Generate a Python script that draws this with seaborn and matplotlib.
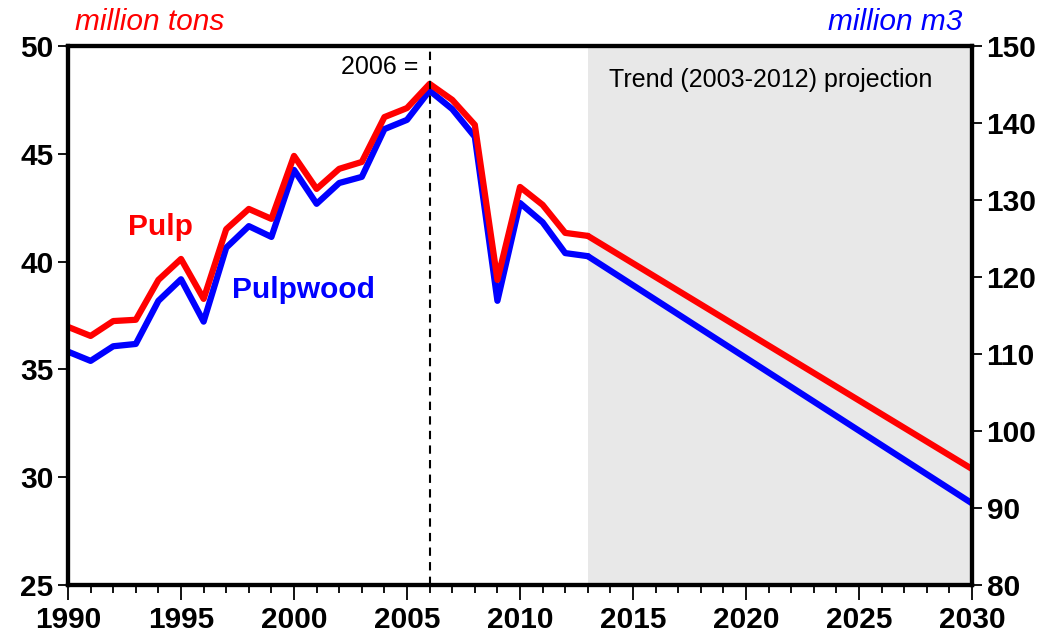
import matplotlib
matplotlib.use("Agg")
import matplotlib.pyplot as plt
import pandas as pd
import seaborn as sns
from matplotlib.ticker import MultipleLocator

# Historical data, 1990-2013
years = list(range(1990, 2014))
pulp = [36.97, 36.55, 37.24, 37.30, 39.15, 40.12, 38.27, 41.50, 42.44, 41.98,
        44.90, 43.37, 44.30, 44.62, 46.70, 47.12, 48.24, 47.50, 46.34, 39.15,
        43.46, 42.63, 41.33, 41.19]
pulpwood = [110.3, 109.1, 111.0, 111.3, 116.9, 119.7, 114.2, 123.8, 126.6, 125.2,
            133.9, 129.5, 132.2, 133.0, 139.2, 140.4, 144.2, 141.8, 138.2, 116.9,
            129.6, 127.1, 123.1, 122.7]

# Trend (2003-2012) projection endpoints
proj_years = [2013, 2030]
proj_pulp = [41.19, 30.38]
proj_pulpwood = [122.7, 90.6]

RED = "#ff0000"
BLUE = "#0000ff"

sns.set_theme(style="white")
plt.rcParams["font.family"] = ["Liberation Sans", "DejaVu Sans"]
plt.rcParams["text.color"] = "black"
plt.rcParams["xtick.color"] = "black"
plt.rcParams["ytick.color"] = "black"

hist = pd.DataFrame({"year": years, "pulp": pulp, "pulpwood": pulpwood})
proj = pd.DataFrame({"year": proj_years, "pulp": proj_pulp, "pulpwood": proj_pulpwood})

fig = plt.figure(figsize=(10.48, 6.38), dpi=100)
ax = fig.add_axes([0.0649, 0.0831, 0.8626, 0.8449])
ax2 = ax.twinx()
ax.set_zorder(ax2.get_zorder() + 1)
ax.patch.set_visible(False)

# shaded projection region and pulpwood on the right axis
ax2.axvspan(2013, 2030, color="#e8e8e8", lw=0, zorder=0)
sns.lineplot(data=hist, x="year", y="pulpwood", ax=ax2, color=BLUE, lw=4.5)
sns.lineplot(data=proj, x="year", y="pulpwood", ax=ax2, color=BLUE, lw=4.5)

# pulp on the left axis
sns.lineplot(data=hist, x="year", y="pulp", ax=ax, color=RED, lw=4.5)
sns.lineplot(data=proj, x="year", y="pulp", ax=ax, color=RED, lw=4.5)
ax.axvline(2006, color="black", ls=(0, (4, 3)), lw=1.5, zorder=5)

ax.set_xlim(1990, 2030)
ax.set_ylim(25, 50)
ax2.set_ylim(80, 150)
ax.set_xlabel("")
ax.set_ylabel("")
ax2.set_ylabel("")

ax.xaxis.set_major_locator(MultipleLocator(5))
ax.xaxis.set_minor_locator(MultipleLocator(1))
ax.yaxis.set_major_locator(MultipleLocator(5))
ax2.yaxis.set_major_locator(MultipleLocator(10))

ax.tick_params(axis="x", which="major", bottom=True, direction="out", length=11,
               width=1.3, color="black", labelcolor="black", labelsize=21.5, pad=4)
ax.tick_params(axis="x", which="minor", bottom=True, direction="out", length=6,
               width=1.3, color="black")
ax.tick_params(axis="y", left=True, direction="out", length=7, width=1.3,
               color="black", labelcolor="black", labelsize=21.5)
ax2.tick_params(axis="y", right=True, direction="out", length=7, width=1.3,
                color="black", labelcolor="black", labelsize=21.5)
for lab in ax.get_xticklabels() + ax.get_yticklabels() + ax2.get_yticklabels():
    lab.set_fontweight("bold")

for a in (ax, ax2):
    for sp in a.spines.values():
        sp.set_color("black")
        sp.set_linewidth(3)

ax.text(0.008, 1.045, "million tons", transform=ax.transAxes, color=RED,
        fontsize=21.5, style="italic", ha="left", va="center")
ax2.text(0.989, 1.045, "million m3", transform=ax2.transAxes, color=BLUE,
         fontsize=21.5, style="italic", ha="right", va="center")
ax.text(2005.5, 49.0, "2006 =", fontsize=18, ha="right", va="center")
ax.text(2021.1, 48.4, "Trend (2003-2012) projection", fontsize=18, ha="center",
        va="center")
ax.text(1994.1, 41.6, "Pulp", color=RED, fontsize=21.5, fontweight="bold",
        ha="center", va="center")
ax.text(1997.25, 38.68, "Pulpwood", color=BLUE, fontsize=21.5, fontweight="bold",
        ha="left", va="center")

fig.savefig("out.png", dpi=100)
